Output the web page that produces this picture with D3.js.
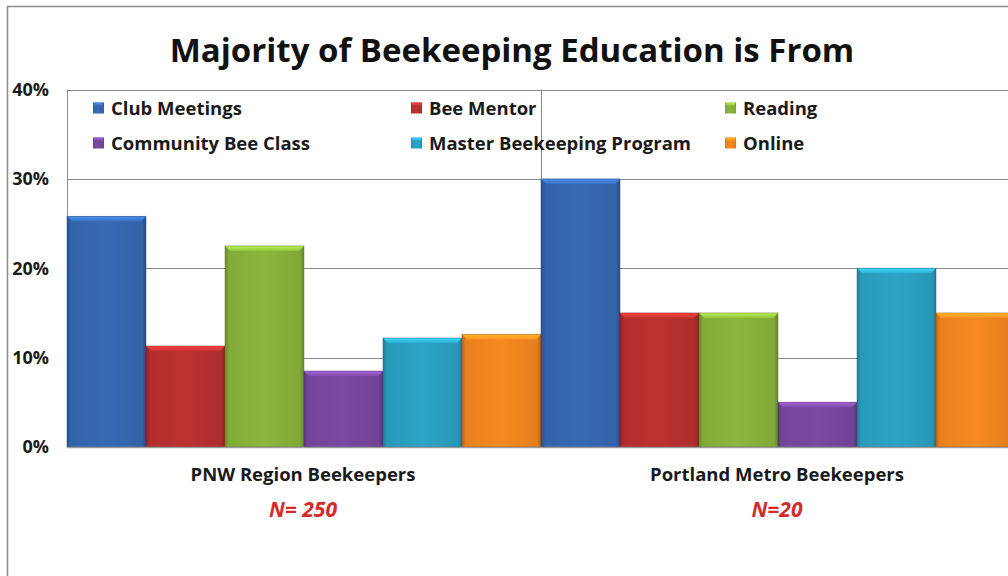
<!DOCTYPE html>
<html>
<head>
<meta charset="utf-8">
<script src="https://cdn.jsdelivr.net/npm/d3@7"></script>
<style>
  html, body { margin: 0; padding: 0; background: #fff; }
  svg { display: block; }
  text { font-family: "Open Sans", Lato, sans-serif; }
</style>
</head>
<body>
<div id="chart"></div>
<script>
// Share of respondents by main source of beekeeping education
const groups = ["PNW Region Beekeepers", "Portland Metro Beekeepers"];
const groupNotes = ["N= 250", "N=20"];
const sources = ["Club Meetings", "Bee Mentor", "Reading", "Community Bee Class", "Master Beekeeping Program", "Online"];
const pnwValues = [25.8, 11.3, 22.5, 8.5, 12.2, 12.6];
const portlandValues = [30, 15, 15, 5, 20, 15];
const yTicks = [0, 10, 20, 30, 40];
const sourceColors = ["#3567b0", "#b7302f", "#87b13a", "#77479e", "#2b9fc0", "#f0851f"];

const valuesByGroup = [pnwValues, portlandValues];
const data = [];
groups.forEach((g, gi) => {
  sources.forEach((s, si) => data.push({ group: g, source: s, value: valuesByGroup[gi][si], si }));
});

const W = 1008, H = 576;
const plot = { left: 67, top: 89.5, right: 1015, bottom: 447 };

const svg = d3.select("#chart").append("svg").attr("width", W).attr("height", H);
const defs = svg.append("defs");

// bevel shading for each series colour
sourceColors.forEach((c, i) => {
  const base = d3.color(c);
  const g = defs.append("linearGradient").attr("id", "body" + i).attr("x1", 0).attr("x2", 1).attr("y1", 0).attr("y2", 0);
  g.append("stop").attr("offset", 0).attr("stop-color", base.darker(0.7));
  g.append("stop").attr("offset", 0.05).attr("stop-color", base.darker(0.1));
  g.append("stop").attr("offset", 0.5).attr("stop-color", base.brighter(0.08));
  g.append("stop").attr("offset", 0.95).attr("stop-color", base.darker(0.15));
  g.append("stop").attr("offset", 1).attr("stop-color", base.darker(0.8));
  const t = defs.append("linearGradient").attr("id", "cap" + i).attr("x1", 0).attr("x2", 0).attr("y1", 0).attr("y2", 1);
  t.append("stop").attr("offset", 0).attr("stop-color", base.brighter(0.9));
  t.append("stop").attr("offset", 1).attr("stop-color", base.brighter(0.25));
});

// outer chart frame
svg.append("path")
  .attr("d", `M7.5,${H} V6.5 H${W + 10}`)
  .attr("fill", "none").attr("stroke", "#8c8c8c").attr("stroke-width", 1.5);

const x0 = d3.scaleBand().domain(groups).range([plot.left, plot.right]).padding(0);
const x1 = d3.scaleBand().domain(sources).range([0, x0.bandwidth()]).padding(0);
const y = d3.scaleLinear().domain([0, 40]).range([plot.bottom, plot.top]);

// horizontal gridlines
svg.append("g").selectAll("line").data(yTicks.filter(d => d > 0)).join("line")
  .attr("x1", plot.left).attr("x2", plot.right)
  .attr("y1", d => Math.round(y(d)) + 0.5).attr("y2", d => Math.round(y(d)) + 0.5)
  .attr("stroke", "#8a8a8a").attr("stroke-width", 1);

// vertical divider between categories
svg.append("g").selectAll("line").data(groups.slice(1)).join("line")
  .attr("x1", d => Math.round(x0(d)) + 0.5).attr("x2", d => Math.round(x0(d)) + 0.5)
  .attr("y1", plot.top).attr("y2", plot.bottom)
  .attr("stroke", "#8a8a8a").attr("stroke-width", 1);

// left edge of the plot area
svg.append("line")
  .attr("x1", plot.left + 0.5).attr("x2", plot.left + 0.5)
  .attr("y1", plot.top).attr("y2", plot.bottom)
  .attr("stroke", "#8a8a8a");

// legend
const legendPos = [[93, 108], [411, 108], [725, 108], [93, 143], [411, 143], [725, 143]];
const legend = svg.append("g");
sources.forEach((s, i) => {
  const [lx, ly] = legendPos[i];
  const g = legend.append("g").attr("transform", `translate(${lx},${ly})`);
  g.append("rect").attr("x", 0).attr("y", -5.5).attr("width", 11).attr("height", 11)
    .attr("fill", `url(#body${i})`);
  g.append("rect").attr("x", 1).attr("y", -5.5).attr("width", 9).attr("height", 3)
    .attr("fill", `url(#cap${i})`);
  g.append("text").attr("x", 18).attr("y", 0).attr("dy", "0.36em")
    .attr("font-size", 18.5).attr("font-weight", 700)
    .attr("fill", "#1a1a1a").text(s);
});

// bars
const bars = svg.append("g").selectAll("g").data(data).join("g")
  .attr("transform", d => `translate(${x0(d.group) + x1(d.source)},${y(d.value)})`);
const bw = x1.bandwidth();
const bev = 5;
bars.append("rect")
  .attr("width", bw).attr("height", d => y(0) - y(d.value))
  .attr("fill", d => `url(#body${d.si})`);
bars.append("path")
  .attr("d", `M0,0 H${bw} L${bw - bev},${bev} H${bev} Z`)
  .attr("fill", d => `url(#cap${d.si})`);
bars.append("rect")
  .attr("width", bw).attr("height", d => y(0) - y(d.value))
  .attr("fill", "none").attr("stroke", d => d3.color(sourceColors[d.si]).darker(1.2))
  .attr("stroke-opacity", 0.45).attr("stroke-width", 1);

// baseline
svg.append("line")
  .attr("x1", plot.left).attr("x2", plot.right)
  .attr("y1", plot.bottom + 0.5).attr("y2", plot.bottom + 0.5)
  .attr("stroke", "#9a9a9a").attr("stroke-width", 1.5);

// y axis labels
svg.append("g").selectAll("text").data(yTicks).join("text")
  .attr("x", 49).attr("y", d => y(d)).attr("dy", "0.36em")
  .attr("text-anchor", "end").attr("font-size", 18).attr("font-weight", 700)
  .attr("fill", "#1a1a1a").text(d => d + "%");

// category labels and sample sizes
groups.forEach((g, i) => {
  const cx = x0(g) + x0.bandwidth() / 2 - 1;
  svg.append("text").attr("x", cx).attr("y", 481)
    .attr("text-anchor", "middle").attr("font-size", 18.5).attr("font-weight", 700)
    .attr("fill", "#1a1a1a").text(g);
  svg.append("text").attr("x", cx).attr("y", 517)
    .attr("text-anchor", "middle").attr("font-size", 21).attr("font-weight", 700)
    .attr("font-style", "italic").attr("fill", "#d42a2a").text(groupNotes[i]);
});

// title
svg.append("text").attr("x", 512).attr("y", 62)
  .attr("text-anchor", "middle").attr("font-size", 33).attr("font-weight", 700)
  .attr("fill", "#111").text("Majority of Beekeeping Education is From");
</script>
</body>
</html>
